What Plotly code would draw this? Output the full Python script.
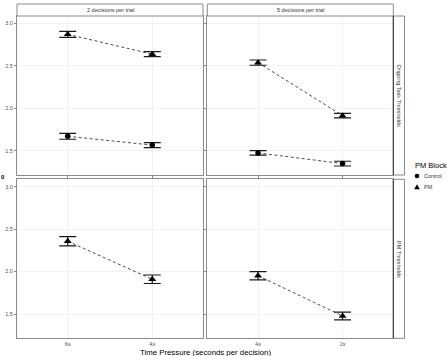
import plotly.graph_objects as go

W, H = 447, 356

# ---- data ----
facet_cols = ["2 decisions per trial", "5 decisions per trial"]
facet_rows = ["Ongoing Task Thresholds", "PM Thresholds"]
time_2 = ["6s", "4s"]
time_5 = ["4s", "2s"]

ongoing_ctrl_2 = [1.670, 1.566]
ongoing_ctrl_2_se = [0.035, 0.030]
ongoing_pm_2 = [2.870, 2.637]
ongoing_pm_2_se = [0.036, 0.030]

ongoing_ctrl_5 = [1.474, 1.348]
ongoing_ctrl_5_se = [0.027, 0.028]
ongoing_pm_5 = [2.537, 1.913]
ongoing_pm_5_se = [0.031, 0.027]

pm_pm_2 = [2.357, 1.909]
pm_pm_2_se = [0.055, 0.050]
pm_pm_5 = [1.951, 1.477]
pm_pm_5_se = [0.049, 0.045]

y_ticks = [1.5, 2.0, 2.5, 3.0]
legend_names = ["Control", "PM"]

# ---- layout geometry (pixels) ----
px_x = lambda v: v / W
px_y = lambda v: 1 - v / H
colL = [px_x(17), px_x(203)]
colR = [px_x(207.3), px_x(393.3)]
rowT = [px_y(175), px_y(16)]
rowB = [px_y(338.3), px_y(179.3)]

FONT = "Liberation Sans, Arial"
fig = go.Figure()

panels = [
    ("x", "y", time_2, [("Control", ongoing_ctrl_2, ongoing_ctrl_2_se), ("PM", ongoing_pm_2, ongoing_pm_2_se)]),
    ("x2", "y2", time_5, [("Control", ongoing_ctrl_5, ongoing_ctrl_5_se), ("PM", ongoing_pm_5, ongoing_pm_5_se)]),
    ("x3", "y3", time_2, [("PM", pm_pm_2, pm_pm_2_se)]),
    ("x4", "y4", time_5, [("PM", pm_pm_5, pm_pm_5_se)]),
]
symbols = {"Control": "circle", "PM": "triangle-up"}
sizes = {"Control": 5.5, "PM": 7}

for xa, ya, cats, series in panels:
    for name, vals, se in series:
        fig.add_trace(go.Scatter(
            x=cats, y=vals, xaxis=xa, yaxis=ya, mode="lines", showlegend=False,
            line=dict(color="#3a3a3a", width=0.9, dash="3px,2.5px"), hoverinfo="skip"))
        fig.add_trace(go.Scatter(
            x=cats, y=vals, xaxis=xa, yaxis=ya, mode="markers", showlegend=False,
            marker=dict(symbol=symbols[name], size=sizes[name], color="black"),
            error_y=dict(type="data", array=se, visible=True, color="#1a1a1a",
                         thickness=1.2, width=8.5)))

axis_common = dict(showgrid=True, gridcolor="#f3f3f3", gridwidth=0.6, zeroline=False,
                   showline=True, linecolor="#8a8a8a", linewidth=1, mirror=True,
                   ticks="outside", tickcolor="#8a8a8a", tickwidth=0.8,
                   tickfont=dict(size=5.5, color="#555555", family=FONT))

xr = [-0.6, 1.6]
yr = [1.214, 3.086]
fig.update_layout(
    xaxis=dict(domain=colL, anchor="y", type="category", categoryorder="array", categoryarray=time_2,
               range=xr, showticklabels=False, ticklen=2, **axis_common),
    xaxis2=dict(domain=colR, anchor="y2", type="category", categoryorder="array", categoryarray=time_5,
                range=xr, showticklabels=False, ticklen=2, **axis_common),
    xaxis3=dict(domain=colL, anchor="y3", type="category", categoryorder="array", categoryarray=time_2,
                range=xr, ticklen=0, **axis_common),
    xaxis4=dict(domain=colR, anchor="y4", type="category", categoryorder="array", categoryarray=time_5,
                range=xr, ticklen=0, **axis_common),
    yaxis=dict(domain=rowT, anchor="x", range=yr, tickvals=y_ticks, ticktext=[f"{v:.1f}" for v in y_ticks], ticklen=2, **axis_common),
    yaxis2=dict(domain=rowT, anchor="x2", range=yr, tickvals=y_ticks, showticklabels=False, ticklen=2, **axis_common),
    yaxis3=dict(domain=rowB, anchor="x3", range=yr, tickvals=y_ticks, ticktext=[f"{v:.1f}" for v in y_ticks], ticklen=2, **axis_common),
    yaxis4=dict(domain=rowB, anchor="x4", range=yr, tickvals=y_ticks, showticklabels=False, ticklen=2, **axis_common),
)

shapes = []
annotations = []
strip_font = dict(size=5.5, color="#333333", family=FONT)
for dom, label in [(colL, facet_cols[0]), (colR, facet_cols[1])]:
    shapes.append(dict(type="rect", xref="paper", yref="paper", x0=dom[0], x1=dom[1],
                       y0=px_y(16), y1=px_y(4), line=dict(color="#8a8a8a", width=1), fillcolor="white"))
    annotations.append(dict(xref="paper", yref="paper", x=(dom[0] + dom[1]) / 2, y=px_y(10),
                            text=label, showarrow=False, font=strip_font, xanchor="center", yanchor="middle"))
for dom, label in [(rowT, facet_rows[0]), (rowB, facet_rows[1])]:
    shapes.append(dict(type="rect", xref="paper", yref="paper", x0=px_x(393.3), x1=px_x(404.5),
                       y0=dom[0], y1=dom[1], line=dict(color="#8a8a8a", width=1), fillcolor="white"))
    annotations.append(dict(xref="paper", yref="paper", x=px_x(399), y=(dom[0] + dom[1]) / 2,
                            text=label, showarrow=False, font=strip_font, textangle=90,
                            xanchor="center", yanchor="middle"))
    shapes.append(dict(type="line", xref="paper", yref="paper", x0=px_x(393.3), x1=px_x(393.3),
                       y0=dom[0], y1=dom[1], line=dict(color="#333333", width=1)))

# legend key symbols (pixel geometry -> paper)
leg_x = 417
leg_y = [176, 187]
shapes.append(dict(type="circle", xref="paper", yref="paper",
                   x0=px_x(leg_x - 2.3), x1=px_x(leg_x + 2.3), y0=px_y(leg_y[0] + 2.3), y1=px_y(leg_y[0] - 2.3),
                   fillcolor="black", line=dict(width=0)))
shapes.append(dict(type="path", xref="paper", yref="paper",
                   path=f"M {px_x(leg_x-2.8)},{px_y(leg_y[1]+2.2)} L {px_x(leg_x+2.8)},{px_y(leg_y[1]+2.2)} L {px_x(leg_x)},{px_y(leg_y[1]-2.8)} Z",
                   fillcolor="black", line=dict(width=0)))

annotations.append(dict(xref="paper", yref="paper", x=px_x(205), y=px_y(352),
                        text="Time Pressure (seconds per decision)", showarrow=False,
                        font=dict(size=7.8, color="black", family=FONT),
                        xanchor="center", yanchor="middle"))
annotations.append(dict(xref="paper", yref="paper", x=0, y=px_y(176.5),
                        text="<b>0</b>", showarrow=False,
                        font=dict(size=6, color="black", family=FONT),
                        xanchor="left", yanchor="middle", xshift=-1))
annotations.append(dict(xref="paper", yref="paper", x=px_x(412.5), y=px_y(165),
                        text="PM Block", showarrow=False,
                        font=dict(size=7.5, color="black", family=FONT),
                        xanchor="left", yanchor="middle"))
for name, yy in zip(legend_names, leg_y):
    annotations.append(dict(xref="paper", yref="paper", x=px_x(421.5), y=px_y(yy),
                            text=name, showarrow=False,
                            font=dict(size=5.5, color="#333333", family=FONT),
                            xanchor="left", yanchor="middle"))

fig.update_layout(
    width=W, height=H, margin=dict(l=0, r=0, t=0, b=0),
    paper_bgcolor="white", plot_bgcolor="white",
    shapes=shapes, annotations=annotations, showlegend=False,
)

fig.write_html("out.html")
